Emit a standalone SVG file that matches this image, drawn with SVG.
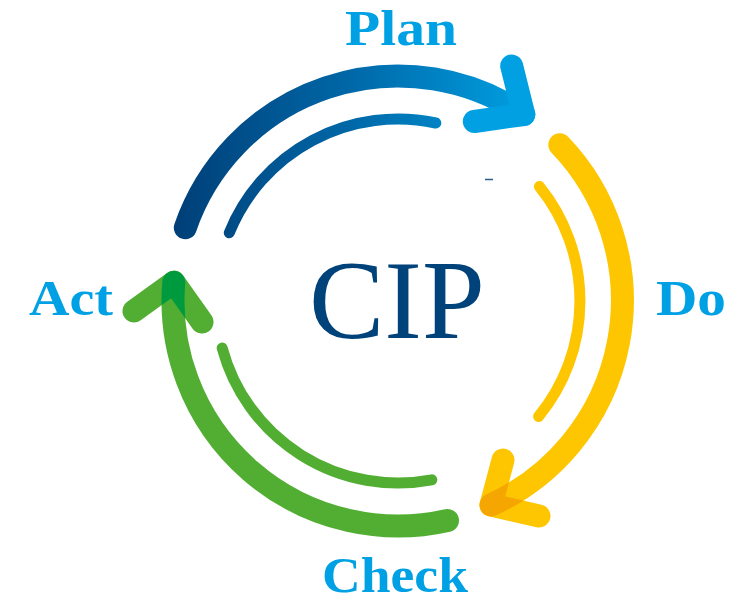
<svg xmlns="http://www.w3.org/2000/svg" width="746" height="603" viewBox="0 0 746 603">
<style>
.lbl{font-family:"Liberation Serif","Times New Roman",serif;font-weight:bold;font-size:50px;fill:#00a1e4}
.title{font-family:"Liberation Serif","Times New Roman",serif;font-size:113px;fill:#00427a}
.arc{fill:none;stroke-linecap:round;stroke-linejoin:round}
.outer{stroke-width:23}
.inner{stroke-width:11}
</style>
<defs>
<linearGradient id="gBlue" gradientUnits="userSpaceOnUse" x1="175" y1="0" x2="530" y2="0">
<stop offset="0" stop-color="#003f78"/>
<stop offset="0.5" stop-color="#0068a8"/>
<stop offset="1" stop-color="#00a0e2"/>
</linearGradient>
<mask id="mY" maskUnits="userSpaceOnUse" x="0" y="0" width="746" height="603">
<path d="M503,460 L491,505 L539,516" fill="none" stroke="#fff" stroke-width="23" stroke-linecap="round" stroke-linejoin="round"/>
</mask>
<mask id="mG" maskUnits="userSpaceOnUse" x="0" y="0" width="746" height="603">
<path d="M134,311 L173.8,282.2 L202,322" fill="none" stroke="#fff" stroke-width="23" stroke-linecap="round" stroke-linejoin="round"/>
</mask>
</defs>
<rect width="746" height="603" fill="#fff"/>
<g id="connectors">
<g id="plan-to-do">
<path class="arc outer" d="M185.3,227.7 A225,225 0 0 1 523.8,114.5" stroke="url(#gBlue)"/>
<path class="arc outer" d="M511.7,66 L523.8,114.5 L474.3,121.5" stroke="#00a0e3"/>
<path class="arc inner" d="M229.3,232.8 A182,182 0 0 1 435.8,123" stroke="url(#gBlue)"/>
</g>
<g id="do-to-check">
<path class="arc outer" d="M559.8,144.7 A225,225 0 0 1 491,505" stroke="#fec600"/>
<path class="arc outer" d="M503,460 L491,505 L539,516" stroke="#fec600"/>
<path class="arc outer" d="M559.8,144.7 A225,225 0 0 1 491,505" stroke="#f5a600" mask="url(#mY)"/>
<path class="arc inner" d="M539.4,186.5 A182,182 0 0 1 538.6,416.5" stroke="#fec600"/>
</g>
<g id="check-to-act">
<path class="arc outer" d="M447.5,520.5 A225,225 0 0 1 173.8,282.2" stroke="#52ae32"/>
<path class="arc outer" d="M134,311 L173.8,282.2 L202,322" stroke="#52ae32"/>
<path class="arc outer" d="M447.5,520.5 A225,225 0 0 1 173.8,282.2" stroke="#009a3e" mask="url(#mG)"/>
<path class="arc inner" d="M431.8,479.8 A182,182 0 0 1 222.2,348.1" stroke="#52ae32"/>
</g>
<line x1="485" y1="179.5" x2="493" y2="179.5" stroke="#2a5a8a" stroke-width="1.5"/>
</g>
<g id="node-cip"><text class="title" x="309" y="338">CIP</text></g>
<g id="node-plan"><text class="lbl" x="345" y="45" textLength="112" lengthAdjust="spacingAndGlyphs">Plan</text></g>
<g id="node-do"><text class="lbl" x="656" y="315" textLength="70" lengthAdjust="spacingAndGlyphs">Do</text></g>
<g id="node-check"><text class="lbl" x="322" y="592" textLength="146" lengthAdjust="spacingAndGlyphs">Check</text></g>
<g id="node-act"><text class="lbl" x="29" y="315" textLength="84" lengthAdjust="spacingAndGlyphs">Act</text></g>
</svg>
